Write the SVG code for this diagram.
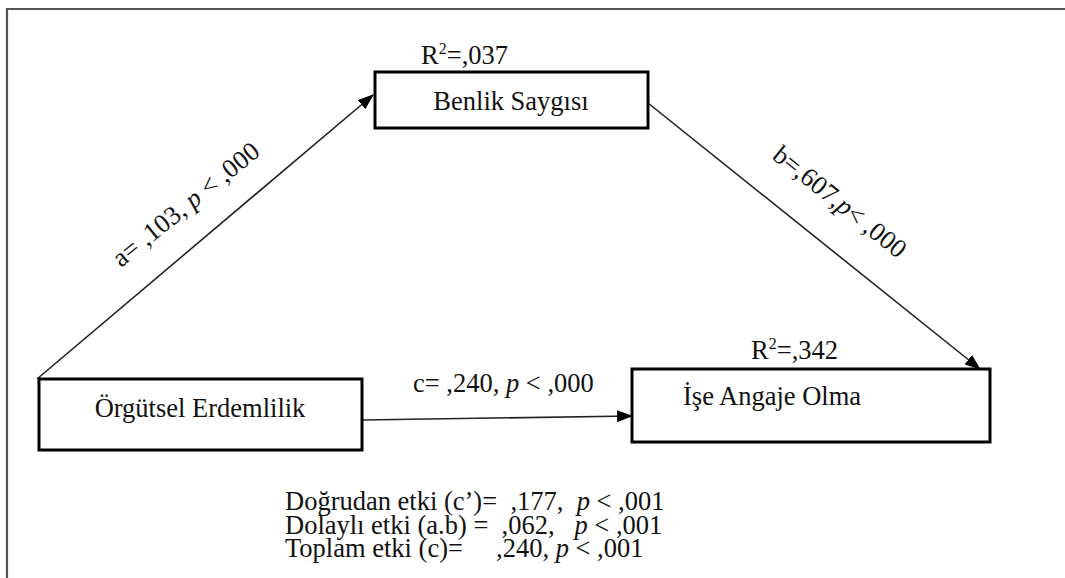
<svg xmlns="http://www.w3.org/2000/svg" width="1065" height="578" viewBox="0 0 1065 578" xml:space="preserve">
<style>
text{font-family:"Liberation Serif","Times New Roman","DejaVu Serif",serif;font-size:26.5px;fill:#111;white-space:pre}
.box{fill:#fff;stroke:#000;stroke-width:3}
.edge{stroke:#222;stroke-width:1.6;fill:none}
.sup{font-size:16px}
</style>
<defs>
<marker id="ah" markerUnits="userSpaceOnUse" markerWidth="16" markerHeight="12" refX="15" refY="6" orient="auto">
<path d="M0,0 L16,6 L0,12 z" fill="#000"/>
</marker>
</defs>
<rect width="1065" height="578" fill="#fff"/>
<path d="M7,578 V9 H1065" fill="none" stroke="#555" stroke-width="2.2"/>
<g id="connectors" font-family="Liberation Serif, serif">
<line class="edge" x1="37" y1="379" x2="373" y2="95" marker-end="url(#ah)"/>
<line class="edge" x1="648" y1="103" x2="980" y2="369" marker-end="url(#ah)"/>
<line class="edge" x1="362" y1="420" x2="632" y2="416" marker-end="url(#ah)"/>
<text transform="translate(121,268) rotate(-39)">a= ,103, <tspan font-style="italic">p</tspan> &lt; ,000</text>
<text transform="translate(771,158) rotate(38.6)">b=,607,<tspan font-style="italic">p</tspan>&lt; ,000</text>
<text x="413" y="392">c= ,240, <tspan font-style="italic">p</tspan> &lt; ,000</text>
</g>
<g id="benlik" font-family="Liberation Serif, serif">
<rect class="box" x="375" y="72" width="273" height="56"/>
<text x="511" y="110" text-anchor="middle">Benlik Saygısı</text>
<text x="421" y="64">R<tspan class="sup" dy="-10">2</tspan><tspan dy="10">=,037</tspan></text>
</g>
<g id="orgutsel" font-family="Liberation Serif, serif">
<rect class="box" x="39" y="379" width="323" height="71"/>
<text x="200" y="417" text-anchor="middle">Örgütsel Erdemlilik</text>
</g>
<g id="ise" font-family="Liberation Serif, serif">
<rect class="box" x="632" y="369" width="358" height="73"/>
<text x="683" y="405">İşe Angaje Olma</text>
<text x="751" y="359">R<tspan class="sup" dy="-10">2</tspan><tspan dy="10">=,342</tspan></text>
</g>
<g id="effects" font-family="Liberation Serif, serif">
<text x="285" y="510">Doğrudan etki (c’)=  ,177,  <tspan font-style="italic">p</tspan> &lt; ,001</text>
<text x="285" y="533.5">Dolaylı etki (a.b) =  ,062,   <tspan font-style="italic">p</tspan> &lt; ,001</text>
<text x="285" y="557">Toplam etki (c)=     ,240, <tspan font-style="italic">p</tspan> &lt; ,001</text>
</g>
</svg>
